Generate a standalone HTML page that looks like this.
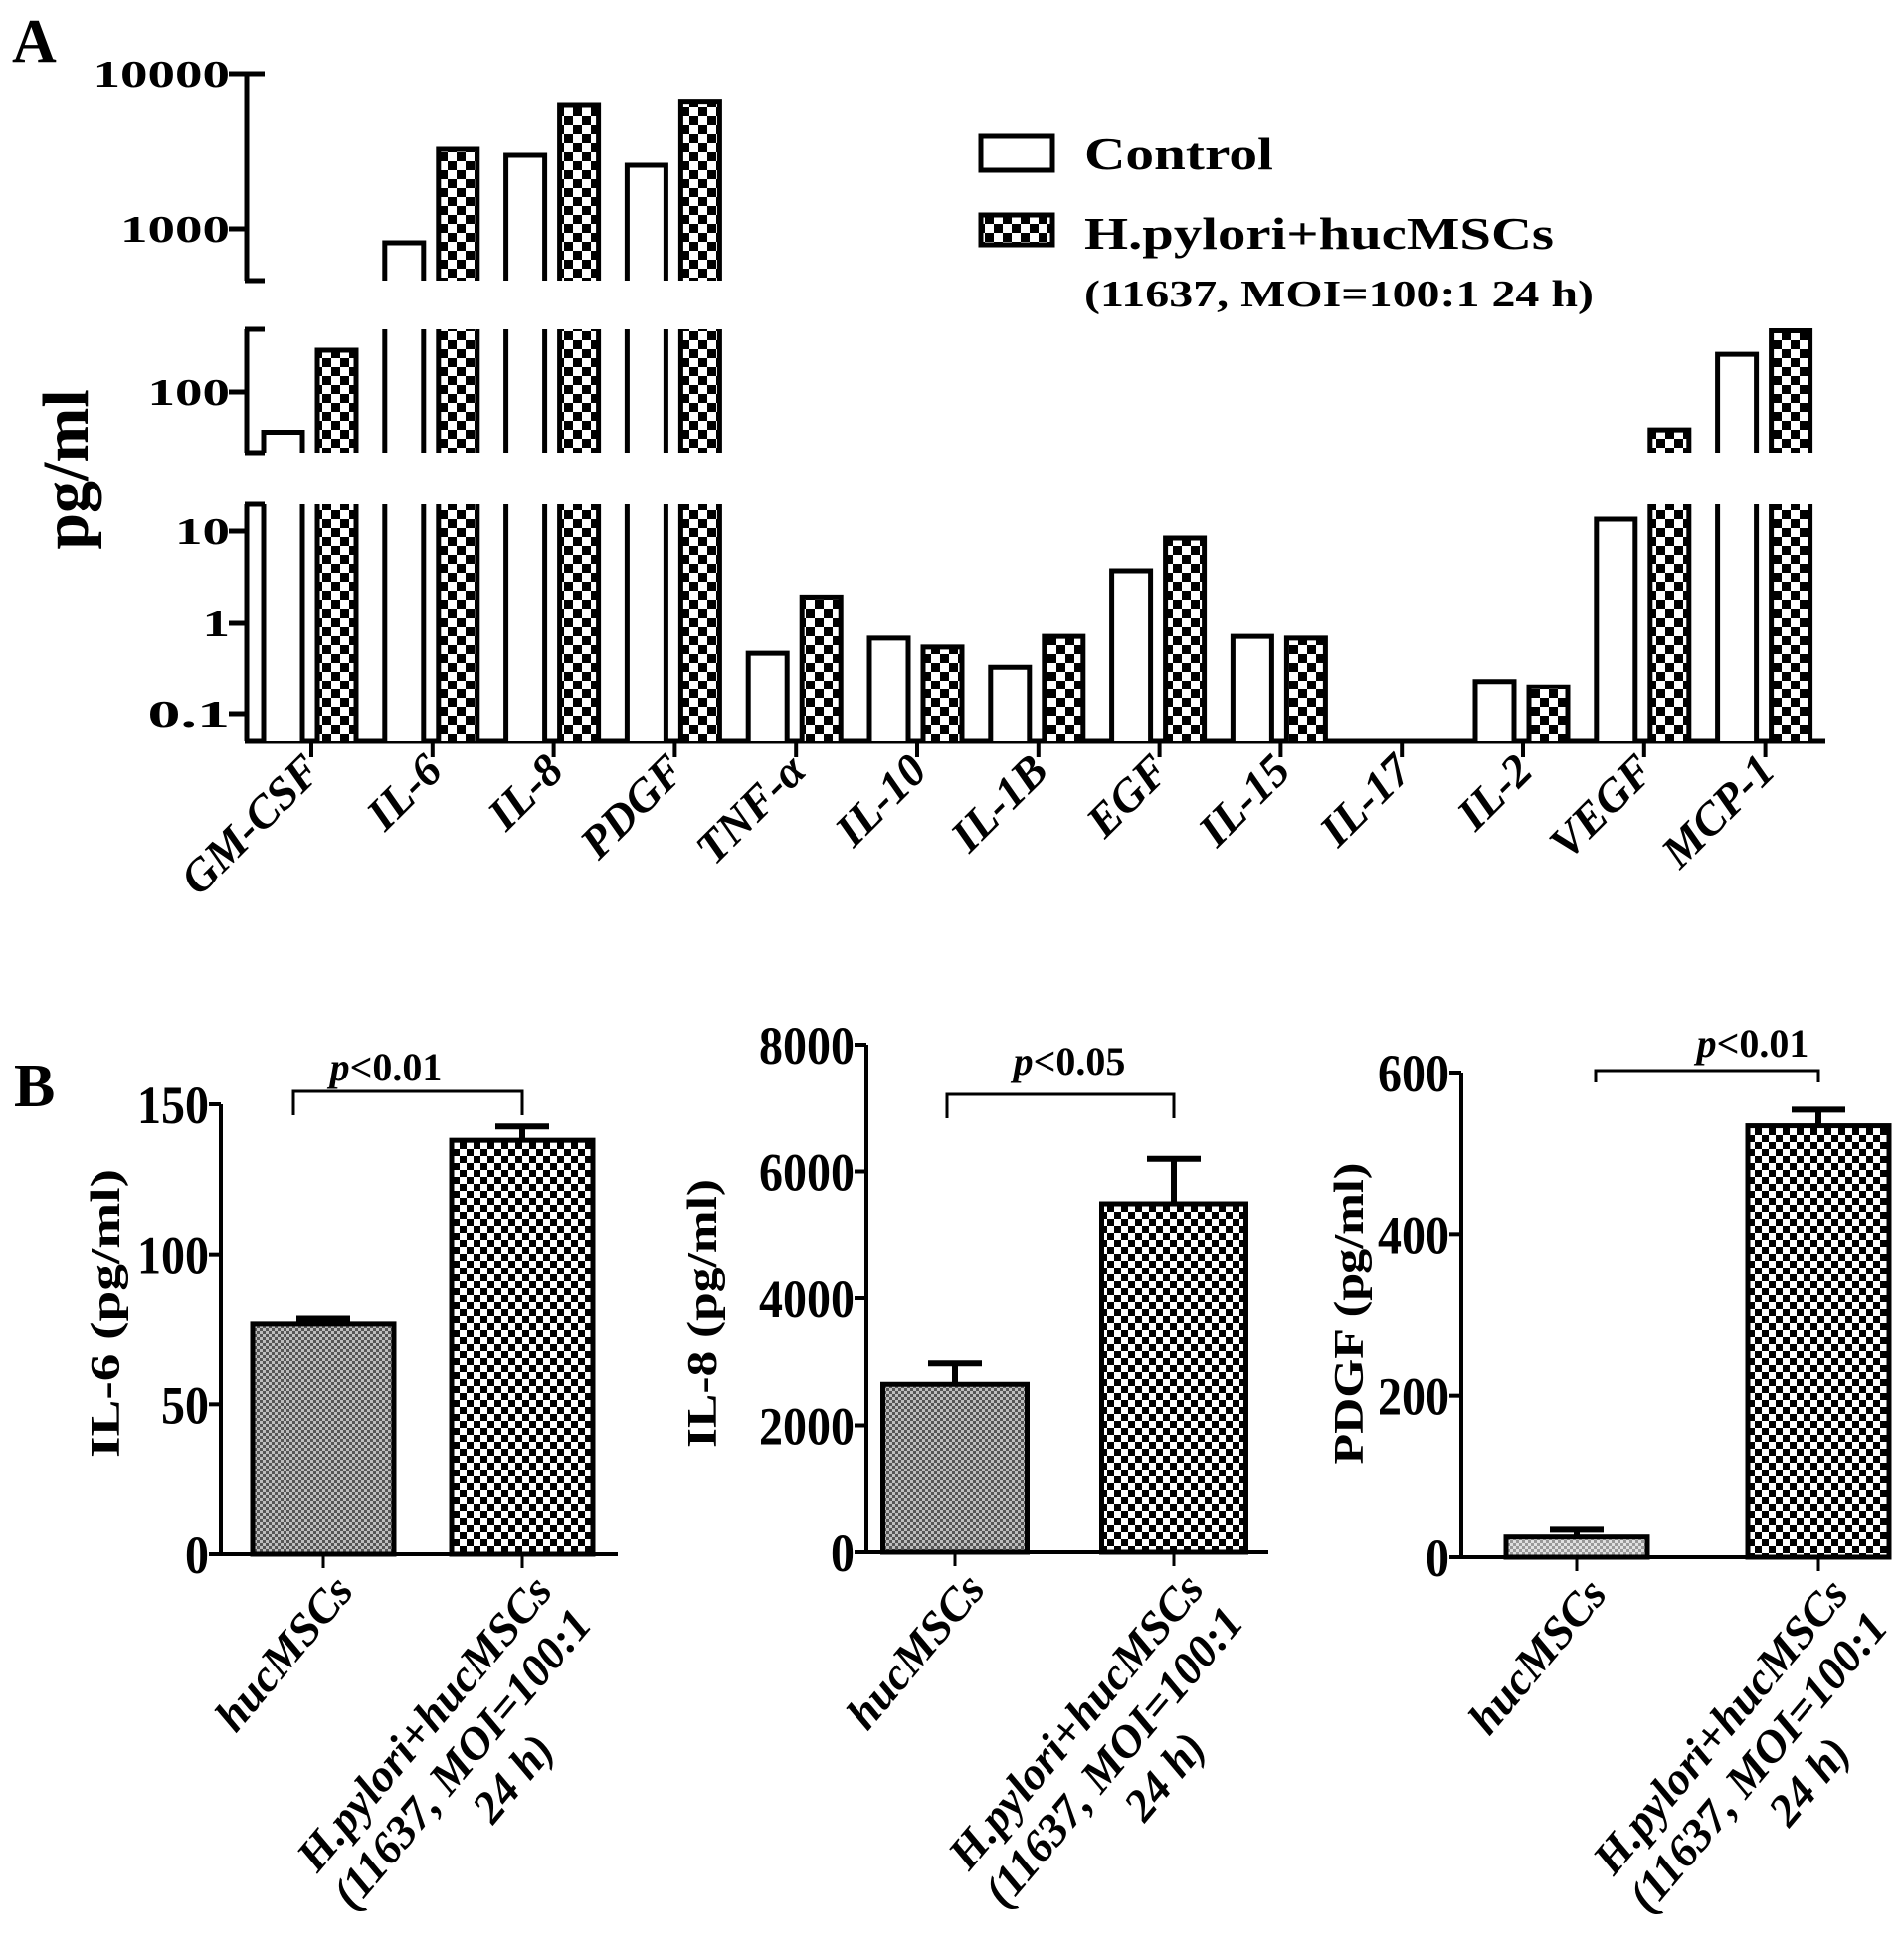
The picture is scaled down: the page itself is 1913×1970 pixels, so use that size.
<!DOCTYPE html>
<html><head><meta charset="utf-8">
<style>
html,body{margin:0;padding:0;background:#fff;}
svg{display:block;}
text{font-family:"Liberation Serif",serif;font-weight:bold;fill:#000;}
</style></head>
<body>
<svg id="fig" xmlns="http://www.w3.org/2000/svg" width="1913" height="1970" viewBox="0 0 1913 1970">
<defs>
<pattern id="chkA" width="18" height="18" patternUnits="userSpaceOnUse">
<rect width="18" height="18" fill="#fff"/><rect width="9" height="9" fill="#000"/><rect x="9" y="9" width="9" height="9" fill="#000"/>
</pattern>
<pattern id="chkB1" width="6" height="6" patternUnits="userSpaceOnUse">
<rect width="6" height="6" fill="#bdbdbd"/><rect width="3" height="3" fill="#555"/><rect x="3" y="3" width="3" height="3" fill="#555"/>
</pattern>
<pattern id="chkB2" width="14" height="14" patternUnits="userSpaceOnUse">
<rect width="14" height="14" fill="#fff"/><rect width="7" height="7" fill="#000"/><rect x="7" y="7" width="7" height="7" fill="#000"/>
</pattern>
<pattern id="chkB3" width="6" height="6" patternUnits="userSpaceOnUse">
<rect width="6" height="6" fill="#e0e0e0"/><rect width="3" height="3" fill="#999"/><rect x="3" y="3" width="3" height="3" fill="#999"/>
</pattern>
</defs>
<text x="12" y="62" font-size="62">A</text>
<text x="14" y="1112" font-size="62">B</text>
<g id="panelA"></g>
<g id="panelB"></g>
</svg>
<script>
// ---------- Panel A data ----------
const categoriesA = ["GM-CSF","IL-6","IL-8","PDGF","TNF-α","IL-10","IL-1B","EGF","IL-15","IL-17","IL-2","VEGF","MCP-1"];
const controlA = [55, 813, 2980, 2570, 0.47, 0.69, 0.33, 3.67, 0.72, 0, 0.23, 13.5, 175];
const treatedA = [186, 3260, 6230, 6560, 1.9, 0.55, 0.72, 8.4, 0.69, 0, 0.2, 57, 248];
const ticksA = [10000, 1000, 100, 10, 1, 0.1];
const tickLabelsA = ["10000","1000","100","10","1","0.1"];

// ---------- Panel B data ----------
const groupsB = ["hucMSCs", "H.pylori+hucMSCs"];
const il6Values = [76.7, 138];
const il6Errors = [1.8, 4.6];
const il8Values = [2647, 5490];
const il8Errors = [330, 710];
const pdgfValues = [25, 534];
const pdgfErrors = [9, 20];
const il6Ticks = [0, 50, 100, 150];
const il8Ticks = [0, 2000, 4000, 6000, 8000];
const pdgfTicks = [0, 200, 400, 600];
const pLabels = ["p<0.01", "p<0.05", "p<0.01"];

const NS = "http://www.w3.org/2000/svg";
function mk(parent, tag, attrs) {
  const e = document.createElementNS(NS, tag);
  for (const k in attrs) e.setAttribute(k, attrs[k]);
  parent.appendChild(e);
  return e;
}

// ---------- Panel A ----------
(function () {
  const g = document.getElementById("panelA");
  const axX = 248, axBottom = 745, axRight = 1835;
  const segs = [
    { ref: 1000, yRef: 230, dec: 156, yTop: 74, yBot: 282 },
    { ref: 100, yRef: 394, dec: 156, yTop: 331, yBot: 455 },
    { ref: 1, yRef: 626, dec: 92, yTop: 507, yBot: 745 }
  ];
  function segFor(v) {
    for (const s of segs) {
      const y = s.yRef - (Math.log10(v) - Math.log10(s.ref)) * s.dec;
      if (y >= s.yTop - 1 && y <= s.yBot + 1) return { s, y };
    }
    return null;
  }
  function yOf(v) { const r = segFor(v); return r ? r.y : null; }
  function xTick(i) { return 313 + 121.8 * i; }

  segs.forEach((s, i) => {
    const l = mk(g, "line", { x1: axX, y1: s.yTop, x2: axX, y2: s.yBot, stroke: "#000", "stroke-width": 5 });
    
    
    const caps = i === 2 ? [s.yTop] : [s.yTop, s.yBot];
    caps.forEach(cy => {
      const c = mk(g, "line", { x1: axX - 2, y1: cy, x2: axX + 18, y2: cy, stroke: "#000", "stroke-width": 5 });
      
      
    });
  });
  const xa = mk(g, "line", { x1: axX - 2, y1: axBottom, x2: axRight, y2: axBottom, stroke: "#000", "stroke-width": 5 });
  
  

  ticksA.forEach((t, i) => {
    const y = yOf(t);
    const tl = mk(g, "line", { x1: axX - 18, y1: y, x2: axX, y2: y, stroke: "#000", "stroke-width": 5 });
    
    
    const lab = tickLabelsA[i];
    const tx = mk(g, "text", { x: 231, y: y + 13, "font-size": 38, "text-anchor": "end", textLength: lab.length * 27.5, lengthAdjust: "spacingAndGlyphs" });
    tx.textContent = lab;
    
    
  });

  const yl = mk(g, "text", { x: 0, y: 0, "font-size": 66, "text-anchor": "middle", transform: "translate(88,472) rotate(-90)" });
  yl.textContent = "pg/ml";
  
  

  function drawBar(x0, w, v, fill, name) {
    if (!(v > 0)) return;
    segs.forEach(s => {
      const yv = s.yRef - (Math.log10(v) - Math.log10(s.ref)) * s.dec;
      if (yv >= s.yBot) return;
      const clipped = yv < s.yTop;
      const top = clipped ? s.yTop : yv;
      const r = mk(g, "rect", { x: x0, y: top, width: w, height: s.yBot - top, fill: fill });
      
      
      const d = clipped
        ? `M${x0},${s.yBot} V${top} M${x0 + w},${top} V${s.yBot}`
        : `M${x0},${s.yBot} V${top} H${x0 + w} V${s.yBot}`;
      const p = mk(g, "path", { d: d, fill: "none", stroke: "#000", "stroke-width": 5 });
      
      
    });
  }

  categoriesA.forEach((c, i) => {
    const tx = xTick(i);
    drawBar(tx - 48, 39, controlA[i], "#fff", "bar-control");
    drawBar(tx + 6, 39, treatedA[i], "url(#chkA)", "bar-treated");
    const tk = mk(g, "line", { x1: tx, y1: axBottom, x2: tx, y2: axBottom + 16, stroke: "#000", "stroke-width": 4 });
    
    
    const lb = mk(g, "text", { x: 0, y: 0, "font-size": 46, "font-style": "italic", "text-anchor": "end", transform: `translate(${tx + 12},${axBottom + 32}) rotate(-45)` });
    lb.textContent = c;
    
    
  });

  const lg = mk(g, "g", {});
  
  
  const b1 = mk(lg, "rect", { x: 986, y: 137, width: 72, height: 34, fill: "#fff", stroke: "#000", "stroke-width": 5 });
  
  
  const t1 = mk(lg, "text", { x: 1090, y: 170, "font-size": 46, textLength: 190, lengthAdjust: "spacingAndGlyphs", "font-weight": "normal" });
  t1.textContent = "Control";
  
  
  const b2 = mk(lg, "rect", { x: 986, y: 216, width: 72, height: 30, fill: "url(#chkA)", stroke: "#000", "stroke-width": 5 });
  
  
  const t2 = mk(lg, "text", { x: 1090, y: 250, "font-size": 46, textLength: 472, lengthAdjust: "spacingAndGlyphs", "font-weight": "normal" });
  t2.textContent = "H.pylori+hucMSCs";
  
  
  const t3 = mk(lg, "text", { x: 1090, y: 308, "font-size": 38, textLength: 512, lengthAdjust: "spacingAndGlyphs" });
  t3.textContent = "(11637, MOI=100:1  24 h)";
  
  
})();

// ---------- Panel B ----------
(function () {
  const g = document.getElementById("panelB");
  const charts = [
    { vals: il6Values, errs: il6Errors, ticks: il6Ticks, max: 150, ax: 222, y0: 1562, yMax: 1110, right: 621, cx: [325, 525], w: 142, fills: ["url(#chkB1)", "url(#chkB2)"], title: "IL-6 (pg/ml)", tX: 106, tLen: 290, br: { y: 1097, x1: 295, x2: 525, leg: 24, tx: 388, ty: 1086 } },
    { vals: il8Values, errs: il8Errors, ticks: il8Ticks, max: 8000, ax: 871, y0: 1560, yMax: 1050, right: 1275, cx: [960, 1180], w: 145, fills: ["url(#chkB1)", "url(#chkB2)"], title: "IL-8 (pg/ml)", tX: 706, tLen: 270, br: { y: 1100, x1: 952, x2: 1180, leg: 24, tx: 1075, ty: 1080 } },
    { vals: pdgfValues, errs: pdgfErrors, ticks: pdgfTicks, max: 600, ax: 1469, y0: 1565, yMax: 1078, right: 1888, cx: [1585, 1828], w: 142, fills: ["url(#chkB3)", "url(#chkB2)"], title: "PDGF (pg/ml)", tX: 1356, tLen: 303, br: { y: 1076, x1: 1604, x2: 1828, leg: 12, tx: 1762, ty: 1062 } }
  ];
  charts.forEach((c, ci) => {
    const cg = mk(g, "g", {});
    
    
    const y = v => c.y0 - (v / c.max) * (c.y0 - c.yMax);
    const ya = mk(cg, "line", { x1: c.ax, y1: c.yMax, x2: c.ax, y2: c.y0, stroke: "#000", "stroke-width": 4 });
    
    
    const xa = mk(cg, "line", { x1: c.ax, y1: c.y0, x2: c.right, y2: c.y0, stroke: "#000", "stroke-width": 4 });
    
    
    c.ticks.forEach(t => {
      const ty = y(t);
      const tl = mk(cg, "line", { x1: c.ax - 12, y1: ty, x2: c.ax, y2: ty, stroke: "#000", "stroke-width": 4 });
      
      
      const s = String(t);
      const tx = mk(cg, "text", { x: c.ax - 12, y: ty + 19, "font-size": 54, "text-anchor": "end", textLength: s.length * 24, lengthAdjust: "spacingAndGlyphs" });
      tx.textContent = s;
      
      
    });
    const tt = mk(cg, "text", { x: 0, y: 0, "font-size": 42, "text-anchor": "middle", textLength: c.tLen, lengthAdjust: "spacingAndGlyphs", transform: `translate(${c.tX + 14},1320) rotate(-90)` });
    tt.textContent = c.title;
    
    

    c.vals.forEach((v, i) => {
      const top = y(v);
      const x0 = c.cx[i] - c.w / 2;
      const r = mk(cg, "rect", { x: x0, y: top, width: c.w, height: c.y0 - top, fill: c.fills[i], stroke: "#000", "stroke-width": 5 });
      
      
      const et = y(v + c.errs[i]);
      const e = mk(cg, "path", { d: `M${c.cx[i]},${top} V${et} M${c.cx[i] - 27},${et} H${c.cx[i] + 27}`, stroke: "#000", "stroke-width": 6, fill: "none" });
      
      
      const tk = mk(cg, "line", { x1: c.cx[i], y1: c.y0, x2: c.cx[i], y2: c.y0 + 14, stroke: "#000", "stroke-width": 3 });
      
      
    });
    const l1 = mk(cg, "text", { x: 0, y: 0, "font-size": 46, "font-style": "italic", "text-anchor": "end", transform: `translate(${c.cx[0] + 32},${c.y0 + 38}) rotate(-50)` });
    l1.textContent = groupsB[0];
    
    
    const lg2 = mk(cg, "g", { transform: `translate(${c.cx[1] + 32},${c.y0 + 38}) rotate(-50)` });
    
    
    const lines = [[groupsB[1], 0, "end"], ["(11637, MOI=100:1", 0, "end"], ["24 h)", -170, "middle"]];
    lines.forEach((ln, k) => {
      const t = mk(lg2, "text", { x: ln[1], y: k * 52, "font-size": 46, "font-style": "italic", "text-anchor": ln[2] });
      t.textContent = ln[0];
      
      
    });
    const b = c.br;
    const bp = mk(cg, "path", { d: `M${b.x1},${b.y + b.leg} V${b.y} H${b.x2} V${b.y + b.leg}`, stroke: "#000", "stroke-width": 3, fill: "none" });
    
    
    const pt = mk(cg, "text", { x: b.tx, y: b.ty, "font-size": 40, "text-anchor": "middle" });
    const pi = mk(pt, "tspan", { "font-style": "italic" });
    pi.textContent = "p";
    const pr = mk(pt, "tspan", {});
    pr.textContent = pLabels[ci].slice(1);
    
    
  });
})();
</script>
</body></html>
